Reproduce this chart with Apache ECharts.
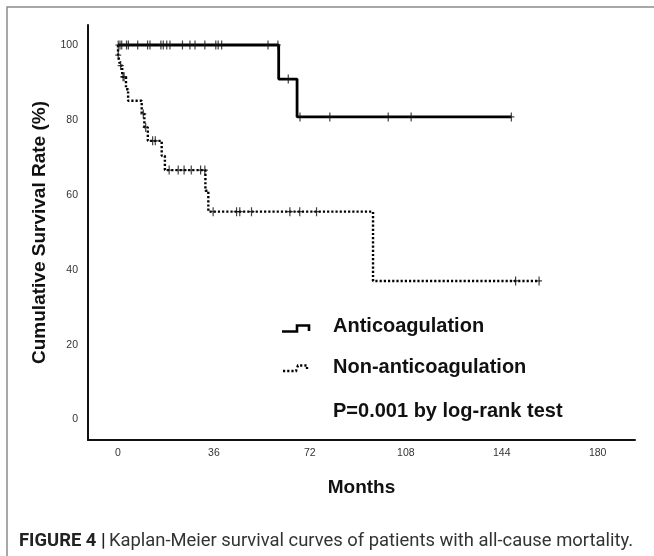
<!DOCTYPE html>
<html>
<head>
<meta charset="utf-8">
<script src="https://cdn.jsdelivr.net/npm/echarts@6/dist/echarts.min.js"></script>
<style>
html,body{margin:0;padding:0;background:#fff;}
#chart{width:654px;height:556px;}
</style>
</head>
<body>
<div id="chart"></div>
<script>
// ---- Data ----
// Kaplan-Meier step curves: time (months) at which survival (%) changes
var antiTime = [0, 60.3, 67.2, 147.6];
var antiSurv = [100, 90.9, 80.8, 80.8];
var nonTime = [0, 0.05, 0.8, 1.6, 3.0, 3.8, 8.9, 9.9, 11.2, 16.4, 17.6, 32.8, 33.9, 95.7, 158.2];
var nonSurv = [100, 97.3, 94.5, 91.5, 88.2, 85.1, 81.6, 78.0, 74.4, 70.4, 66.6, 61.1, 55.5, 37.0, 37.0];

// Censored observations (+ marks)
var antiCensorTime = [0.1, 0.75, 1.4, 3.2, 3.9, 7.4, 11.1, 12.0, 16.1, 17.0, 18.3, 19.5, 24.2, 27.0, 28.9, 32.6, 36.7, 37.6, 38.9, 56.3, 60.0, 63.9, 68.3, 79.5, 101.4, 110.0, 147.6];
var antiCensorSurv = [100, 100, 100, 100, 100, 100, 100, 100, 100, 100, 100, 100, 100, 100, 100, 100, 100, 100, 100, 100, 100, 90.9, 80.8, 80.8, 80.8, 80.8, 80.8];
var nonCensorTime = [0.1, 1.0, 1.9, 2.3, 9.5, 10.4, 13.0, 14.0, 19.2, 22.6, 24.8, 27.5, 31.0, 32.6, 35.7, 44.5, 45.7, 50.1, 64.5, 68.2, 74.5, 149.2, 158.0];
var nonCensorSurv = [97.3, 94.5, 91.5, 91.5, 81.6, 78.0, 74.4, 74.4, 66.6, 66.6, 66.6, 66.6, 66.6, 66.6, 55.5, 55.5, 55.5, 55.5, 55.5, 55.5, 55.5, 37.0, 37.0];

var xTicks = [0, 36, 72, 108, 144, 180];
var yTicks = [0, 20, 40, 60, 80, 100];

var seriesNames = ['Anticoagulation', 'Non-anticoagulation'];
var pText = 'P=0.001 by log-rank test';
var captionBold = 'FIGURE 4 |';
var captionText = 'Kaplan-Meier survival curves of patients with all-cause mortality.';

function pairs(xs, ys) { return xs.map(function (x, i) { return [x, ys[i]]; }); }

var plusPath = 'path://M-0.6,-4.5 L0.6,-4.5 L0.6,-0.6 L3,-0.6 L3,0.6 L0.6,0.6 L0.6,4.5 L-0.6,4.5 L-0.6,0.6 L-3,0.6 L-3,-0.6 L-0.6,-0.6 Z';

var chart = echarts.init(document.getElementById('chart'), null, {renderer: 'canvas'});
var legendFont = 'bold 20px "Liberation Sans", Arial, sans-serif';

chart.setOption({
  animation: false,
  backgroundColor: '#ffffff',
  grid: {left: 88, right: 19, top: 25, bottom: 116, containLabel: false},
  xAxis: {
    type: 'value', min: -11.25, max: 194,
    name: 'Months', nameLocation: 'middle', nameGap: 38,
    nameTextStyle: {fontFamily: 'Liberation Sans', fontWeight: 'bold', fontSize: 19, color: '#111'},
    axisLine: {show: true, onZero: false, lineStyle: {color: '#111', width: 2}},
    axisTick: {show: false},
    splitLine: {show: false},
    axisLabel: {customValues: xTicks, fontFamily: 'Liberation Sans', fontSize: 10.5, color: '#333', margin: 8}
  },
  yAxis: {
    type: 'value', min: -5.47, max: 105.34,
    name: 'Cumulative Survival Rate (%)', nameLocation: 'middle', nameGap: 33,
    nameTextStyle: {fontFamily: 'Liberation Sans', fontWeight: 'bold', fontSize: 19, color: '#111'},
    axisLine: {show: true, onZero: false, lineStyle: {color: '#111', width: 2}},
    axisTick: {show: false},
    splitLine: {show: false},
    axisLabel: {customValues: yTicks, fontFamily: 'Liberation Sans', fontSize: 10.5, color: '#333', margin: 10, padding: [3, 0, 0, 0]}
  },
  series: [
    {
      name: seriesNames[0], type: 'line', step: 'end', symbol: 'none',
      data: pairs(antiTime, antiSurv),
      lineStyle: {color: '#000', width: 2.8}, z: 3
    },
    {
      name: seriesNames[1], type: 'line', step: 'end', symbol: 'none',
      data: pairs(nonTime, nonSurv),
      lineStyle: {color: '#000', width: 2.4, type: [2.2, 2.0], cap: 'butt'}, z: 3
    },
    {
      type: 'scatter', symbol: plusPath, symbolSize: [6, 9],
      data: pairs(antiCensorTime, antiCensorSurv),
      itemStyle: {color: '#111'}, z: 4
    },
    {
      type: 'scatter', symbol: plusPath, symbolSize: [6, 9],
      data: pairs(nonCensorTime, nonCensorSurv),
      itemStyle: {color: '#111'}, z: 4
    }
  ],
  graphic: [
    {type: 'rect', shape: {x: 7, y: 7, width: 800, height: 700}, style: {fill: null, stroke: '#8c8c8c', lineWidth: 1.5}, silent: true},
    // legend icons
    {type: 'polyline', shape: {points: [[282, 331.5], [297, 331.5], [297, 325.5], [309, 325.5], [309, 331]]}, style: {stroke: '#000', lineWidth: 2.6, fill: null}},
    {type: 'polyline', shape: {points: [[283, 371], [296, 371], [298, 365.5], [307, 365.5], [307, 369]]}, style: {stroke: '#000', lineWidth: 2.4, fill: null, lineDash: [2.2, 2]}},
    {type: 'text', left: 333, top: 316, style: {text: seriesNames[0], font: legendFont, fill: '#111'}},
    {type: 'text', left: 333, top: 357, style: {text: seriesNames[1], font: legendFont, fill: '#111'}},
    {type: 'text', left: 333, top: 401, style: {text: pText, font: legendFont, fill: '#111'}},
    {type: 'text', left: 19, top: 532, style: {
      text: '{b|' + captionBold + '} {r|' + captionText + '}',
      rich: {
        b: {font: 'bold 18.4px "Liberation Sans Narrow", "Roboto", sans-serif', fill: '#222'},
        r: {font: '18.4px "Liberation Sans Narrow", "Roboto", sans-serif', fill: '#333'}
      }
    }}
  ]
});
</script>
</body>
</html>
